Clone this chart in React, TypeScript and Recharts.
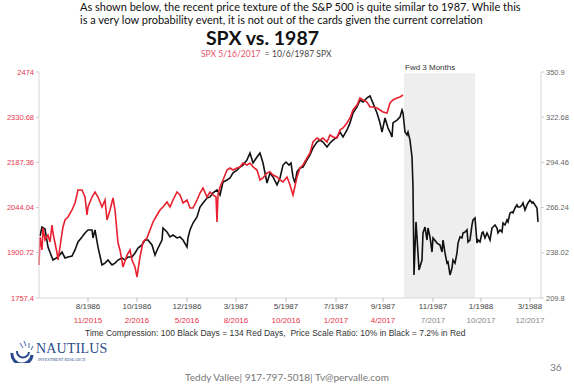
import React from "react";
import {
  LineChart,
  Line,
  XAxis,
  YAxis,
  ReferenceArea,
} from "recharts";

// ---- Data ----
// x: day offset along the common (compressed) time axis
const blackDay = [
  1, 3, 6, 9, 14, 19, 23, 26, 29, 33, 36, 39, 43, 46, 49, 53, 54, 56, 59, 63, 66, 69, 73, 76, 79, 83, 86, 89, 93, 96,
  99, 103, 106, 109, 113, 116, 119, 123, 124, 128, 131, 134, 138, 141, 144, 148, 149, 151, 154, 158, 161, 164, 168, 171,
  174, 178, 181, 184, 188, 191, 194, 198, 201, 204, 208, 211, 214, 218, 221, 224, 228, 231, 234, 238, 241, 244, 247, 250,
  252, 254, 256, 258, 261, 264, 268, 271, 274, 278, 281, 284, 288, 291, 294, 298, 301, 304, 308, 311, 314, 318, 321, 324,
  328, 331, 334, 338, 341, 343, 346, 349, 351, 353, 354, 358, 361, 363, 364, 366, 368, 369, 371, 373, 374, 375, 377, 378,
  380, 383, 384, 386, 388, 389, 391, 393, 394, 398, 401, 403, 404, 406, 408, 409, 411, 413, 414, 416, 418, 419, 421, 423,
  424, 426, 428, 429, 431, 433, 434, 436, 438, 439, 441, 443, 444, 446, 448, 449, 451, 453, 454, 456, 458, 459, 461, 463,
  464, 466, 468, 469, 471, 473, 474, 476, 478, 479, 481, 483, 484, 486, 488, 489, 491, 493, 494, 496, 498, 499,
];
const blackClose = [
  248.5, 254.1, 252.9, 241.6, 233.5, 235.4, 238.5, 234.8, 235.4, 236.0, 239.8, 244.8, 247.9, 250.4, 252.3, 252.3, 247.3,
  252.3, 241.6, 230.4, 231.6, 233.5, 230.4, 231.6, 233.5, 234.8, 233.5, 235.4, 235.4, 237.9, 241.0, 242.9, 246.0, 246.0,
  242.9, 236.6, 241.0, 246.0, 253.5, 251.0, 247.9, 249.1, 247.3, 247.9, 246.0, 241.6, 247.3, 252.3, 256.6, 260.4, 266.6,
  269.1, 272.2, 272.9, 275.4, 277.3, 274.1, 282.2, 283.5, 284.7, 287.9, 289.7, 291.6, 292.8, 296.0, 300.3, 294.1, 297.8,
  300.3, 294.1, 281.6, 287.9, 285.4, 280.4, 284.7, 292.8, 294.7, 292.8, 294.1, 285.4, 281.6, 288.5, 291.0, 291.6, 296.0,
  299.1, 303.5, 307.2, 308.4, 307.2, 304.1, 306.6, 308.4, 310.3, 313.4, 310.3, 314.7, 319.1, 325.3, 329.1, 333.4, 332.2,
  334.7, 335.9, 331.5, 325.3, 319.1, 313.4, 322.2, 315.9, 313.4, 310.3, 319.1, 320.9, 322.8, 327.2, 325.3, 313.4, 311.6,
  313.4, 308.4, 297.8, 279.1, 224.2, 257.3, 247.9, 227.3, 233.5, 250.4, 254.1, 246.0, 253.5, 247.9, 238.5, 247.3, 244.1,
  242.9, 238.5, 246.0, 237.9, 231.6, 232.3, 224.2, 228.5, 233.5, 231.6, 237.9, 244.1, 247.9, 247.3, 250.4, 251.0, 252.3,
  244.8, 246.0, 255.4, 258.5, 259.7, 244.1, 246.0, 244.8, 250.4, 251.0, 247.3, 250.4, 249.1, 246.0, 253.5, 254.1, 255.4,
  253.5, 250.4, 252.3, 251.0, 256.6, 255.4, 258.5, 257.3, 262.9, 263.5, 262.9, 266.0, 267.9, 266.6, 266.6, 267.9, 269.1,
  264.7, 267.9, 269.1, 270.9, 269.1, 269.7, 267.9, 266.0, 257.3,
];

const redDay = [
  0, 1, 3, 4, 6, 9, 11, 13, 14, 16, 18, 19, 21, 23, 24, 26, 29, 33, 36, 39, 43, 46, 48, 49, 53, 56, 59, 63, 66, 68, 71,
  74, 76, 79, 81, 84, 88, 91, 93, 96, 98, 101, 104, 108, 111, 114, 118, 121, 124, 128, 131, 134, 138, 141, 144, 148, 151,
  154, 158, 161, 164, 168, 171, 174, 177, 178, 179, 181, 184, 188, 191, 194, 198, 201, 204, 208, 211, 214, 218, 221, 224,
  228, 231, 234, 238, 241, 244, 248, 251, 254, 258, 261, 264, 268, 271, 274, 278, 281, 284, 288, 291, 294, 298, 301, 304,
  308, 311, 314, 318, 321, 324, 328, 331, 334, 338, 341, 344, 348, 351, 354, 358, 361, 364,
];
const redClose = [
  1862.0, 1950.8, 1909.6, 1979.4, 1941.3, 1957.2, 1935.0, 1988.9, 1963.5, 1931.8, 1900.1, 1877.9, 1919.1, 1963.5, 1982.5,
  2004.7, 2014.2, 2036.4, 2058.6, 2099.9, 2099.9, 2077.7, 2020.6, 2046.0, 2077.7, 2093.5, 2077.7, 2046.0, 2068.1, 2004.7,
  2036.4, 2074.5, 2036.4, 1931.8, 1909.6, 1855.7, 1893.7, 1909.6, 1877.9, 1855.7, 1824.0, 1887.4, 1935.0, 1947.6, 1973.0,
  1998.4, 2020.6, 2036.4, 2046.0, 2061.8, 2046.0, 2068.1, 2093.5, 2084.0, 2058.6, 2068.1, 2042.8, 2042.8, 2068.1, 2090.3,
  2106.2, 2077.7, 2093.5, 2084.0, 2077.7, 1998.4, 2084.0, 2109.4, 2131.6, 2163.3, 2169.6, 2163.3, 2169.6, 2172.8, 2185.5,
  2179.1, 2185.5, 2172.8, 2163.3, 2131.6, 2137.9, 2153.8, 2156.9, 2147.4, 2141.1, 2131.6, 2125.2, 2141.1, 2115.7, 2084.0,
  2141.1, 2169.6, 2179.1, 2201.3, 2217.2, 2252.0, 2264.7, 2258.4, 2264.7, 2252.0, 2274.2, 2267.9, 2264.7, 2290.1, 2296.4,
  2312.3, 2328.1, 2353.5, 2369.4, 2391.6, 2385.2, 2378.9, 2363.0, 2363.0, 2359.9, 2353.5, 2347.2, 2344.0, 2375.7, 2385.2,
  2391.6, 2394.7, 2401.1,
];

const leftTicks = [1757.4, 1900.72, 2044.04, 2187.36, 2330.68, 2474];
const rightTicks = [209.8, 238.02, 266.24, 294.46, 322.68, 350.9];
const xTickDays = [49, 98, 148, 197, 247, 297, 344, 394, 442, 491];
const blackLabels = ["8/1986", "10/1986", "12/1986", "3/1987", "5/1987", "7/1987", "9/1987", "11/1987", "1/1988", "3/1988"];
const redLabels = ["11/2015", "2/2016", "5/2016", "8/2016", "10/2016", "1/2017", "4/2017", "7/2017", "10/2017", "12/2017"];
const fwdStart = 365;
const fwdEnd = 436;
const xMax = 502;

const blackData = blackDay.map((d, i) => ({ day: d, black: blackClose[i] }));
const redData = redDay.map((d, i) => ({ day: d, red: redClose[i] }));

const RED = "#e8202f";
const RED_TEXT = "#e8344a";
const FONT = "'Liberation Sans', Arial, sans-serif";
const FWD_LABEL_INDEX = 7;

const XTick = (props: any) => {
  const { x, y, payload } = props;
  const i = xTickDays.indexOf(payload.value);
  return (
    <g>
      <text x={x} y={y + 5} textAnchor="middle" fontSize={8} fill="#444" fontFamily={FONT}>
        {blackLabels[i]}
      </text>
      <text
        x={x}
        y={y + 19}
        textAnchor="middle"
        fontSize={8}
        fill={i >= FWD_LABEL_INDEX ? "#888" : RED_TEXT}
        fontFamily={FONT}
      >
        {redLabels[i]}
      </text>
    </g>
  );
};

const Logo = () => (
  <div style={{ position: "absolute", left: 8, top: 337, width: 120, height: 28 }}>
    <svg width={30} height={24} style={{ position: "absolute", left: 0, top: 2 }}>
      <path d="M4 14 A10 10 0 0 0 24 16" stroke="#2b4a8c" strokeWidth={3} fill="none" />
      <path d="M9 12 A6 6 0 0 0 21 13" stroke="#2b4a8c" strokeWidth={2} fill="none" />
      <path d="M16 2 L18 7 M21 4 L21 9 M25 7 L23 11 M12 4 L15 9" stroke="#6a86c0" strokeWidth={1.2} />
    </svg>
    <div
      style={{
        position: "absolute",
        left: 28,
        top: 4,
        fontFamily: "'Liberation Serif', serif",
        fontSize: 14,
        color: "#2b4a8c",
        letterSpacing: 0.2,
      }}
    >
      NAUTILUS
    </div>
    <div
      style={{
        position: "absolute",
        left: 30,
        top: 20,
        fontFamily: "'Liberation Serif', serif",
        fontSize: 4,
        color: "#2b4a8c",
        whiteSpace: "nowrap",
      }}
    >
      INVESTMENT RESEARCH
    </div>
  </div>
);

export default function App() {
  return (
    <div style={{ position: "absolute", left: 0, top: 0, width: 574, height: 386, background: "#fff", overflow: "hidden" }}>
      <div
        style={{
          position: "absolute",
          left: 80,
          top: 0,
          fontFamily: "Lato, 'Open Sans', sans-serif",
          fontSize: 11,
          lineHeight: "13px",
          color: "#111",
          whiteSpace: "nowrap",
        }}
      >
        As shown below, the recent price texture of the S&amp;P 500 is quite similar to 1987. While this
        <br />
        is a very low probability event, it is not out of the cards given the current correlation
      </div>
      <div
        style={{
          position: "absolute",
          left: 0,
          width: 525,
          top: 26,
          lineHeight: "23px",
          textAlign: "center",
          fontFamily: "Lato, sans-serif",
          fontWeight: 700,
          fontSize: 19.5,
          color: "#111",
        }}
      >
        SPX vs. 1987
      </div>
      <div
        style={{
          position: "absolute",
          left: 201,
          top: 49,
          lineHeight: "10px",
          fontFamily: "Lato, sans-serif",
          fontSize: 8.5,
          whiteSpace: "nowrap",
        }}
      >
        <span style={{ color: "#e8556a" }}>SPX 5/16/2017</span>
        <span style={{ color: "#444" }}>&nbsp; = 10/6/1987 SPX</span>
      </div>
      <div style={{ position: "absolute", left: 0, top: 0 }}>
        <LineChart width={574} height={330} margin={{ top: 72, right: 0, bottom: 0, left: 0 }}>
          <XAxis
            dataKey="day"
            type="number"
            domain={[0, xMax]}
            ticks={xTickDays}
            interval={0}
            height={32}
            axisLine={{ stroke: "#d8d8d8" }}
            tickLine={{ stroke: "#bbb" }}
            tickSize={4}
            tick={<XTick />}
            allowDuplicatedCategory={false}
          />
          <YAxis
            yAxisId="left"
            orientation="left"
            width={39}
            domain={[1757.4, 2474]}
            ticks={leftTicks}
            interval={0}
            axisLine={{ stroke: "#d8d8d8" }}
            tickLine={{ stroke: "#ccc" }}
            tickSize={3}
            tick={{ fill: RED_TEXT, fontSize: 7.5, fontFamily: FONT }}
          />
          <YAxis
            yAxisId="right"
            orientation="right"
            width={33}
            domain={[209.8, 350.9]}
            ticks={rightTicks}
            interval={0}
            axisLine={{ stroke: "#d8d8d8" }}
            tickLine={{ stroke: "#ccc" }}
            tickSize={3}
            tick={{ fill: "#666", fontSize: 7.5, fontFamily: FONT }}
          />
          <ReferenceArea
            yAxisId="left"
            x1={fwdStart}
            x2={fwdEnd}
            y1={1757.4}
            y2={2470}
            fill="#eeeeee"
            fillOpacity={1}
            stroke="none"
          />
          <Line
            yAxisId="right"
            data={blackData}
            dataKey="black"
            stroke="#111"
            strokeWidth={1.6}
            dot={false}
            isAnimationActive={false}
          />
          <Line
            yAxisId="left"
            data={redData}
            dataKey="red"
            stroke={RED}
            strokeWidth={1.6}
            dot={false}
            isAnimationActive={false}
          />
        </LineChart>
      </div>
      <div
        style={{
          position: "absolute",
          left: 405,
          top: 63,
          fontFamily: FONT,
          fontSize: 8,
          color: "#333",
          whiteSpace: "nowrap",
        }}
      >
        Fwd 3 Months
      </div>
      <div
        style={{
          position: "absolute",
          left: 85,
          top: 328,
          fontFamily: FONT,
          fontSize: 8.5,
          color: "#333",
          whiteSpace: "nowrap",
        }}
      >
        Time Compression: 100 Black Days = 134 Red Days,&nbsp; Price Scale Ratio: 10% in Black = 7.2% in Red
      </div>
      <Logo />
      <div
        style={{
          position: "absolute",
          left: 0,
          width: 574,
          top: 371,
          textAlign: "center",
          fontFamily: "Lato, sans-serif",
          fontSize: 10,
          color: "#777",
          whiteSpace: "nowrap",
        }}
      >
        Teddy Vallee| 917-797-5018| Tv@pervalle.com
      </div>
      <div
        style={{
          position: "absolute",
          left: 550,
          top: 361,
          fontFamily: "Lato, sans-serif",
          fontSize: 10,
          color: "#777",
        }}
      >
        36
      </div>
    </div>
  );
}
